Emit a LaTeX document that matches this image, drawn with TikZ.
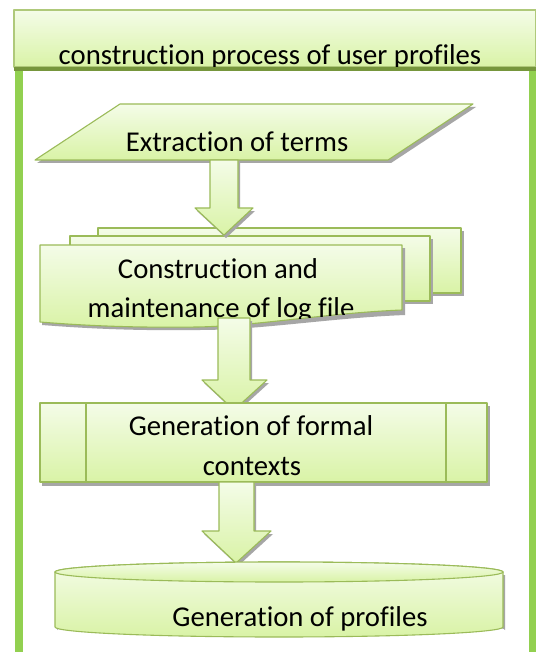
\documentclass[tikz,border=0pt]{standalone}
\usepackage{fontspec}
\setmainfont{Carlito}[RawFeature={-liga;-clig}]
\definecolor{framegreen}{HTML}{92D050}
\definecolor{bordergreen}{HTML}{9BBB59}
\definecolor{filltop}{HTML}{F4FCE8}
\definecolor{fillbot}{HTML}{D9F3A6}
\definecolor{darkline}{HTML}{76963C}
\definecolor{shadowgray}{HTML}{A6A6A6}
\tikzset{
  shp/.style={draw=bordergreen, line width=1.1pt, line join=round, top color=filltop, bottom color=fillbot},
  shad/.style={fill=shadowgray, draw=none},
  lbl/.style={font=\fontsize{28.7}{34}\selectfont, anchor=base, inner sep=0pt, text=black},
}
\begin{document}
\begin{tikzpicture}[x=1pt,y=-1pt]
\useasboundingbox (0,0) rectangle (535,652);
\fill[white] (0,0) rectangle (535,652);

% title box
\path[shp, draw=bordergreen!80] (14,10) rectangle (536,67);
\fill[darkline] (14,67) rectangle (536,71);
\begin{scope}
  \clip (14,10) rectangle (536,66.5);
  \node[lbl] (title) at (270,65) {construction process of user profiles};
\end{scope}

% frame bars
\fill[framegreen] (15,71) rectangle (23,652);
\fill[framegreen] (529,71) rectangle (536,652);

% parallelogram
\fill[shad] (122,107) -- (476,107) -- (391,163) -- (37,163) -- cycle;
\path[shp] (120,104) -- (473,104) -- (388,160) -- (35,160) -- cycle;
\node[lbl] (extr) at (237,152) {Extraction of terms};

% multi document
\fill[shad] (100,231) rectangle (464,296);
\path[shp] (98,228) rectangle (461,293);
\fill[shad] (72,239) rectangle (433,304);
\path[shp] (70,236) rectangle (430,301);
\fill[shad] (42,248) -- (405,248) -- (405,315) .. controls (330,318) and (260,330) .. (200,330) .. controls (130,331) and (80,328) .. (42,325) -- cycle;
\path[shp] (40,245) -- (402,245) -- (402,310) .. controls (327,313) and (257,326) .. (197,327) .. controls (127,328) and (77,325) .. (40,322) -- cycle;
\node[lbl] (cons1) at (218,278) {Construction and};
\begin{scope}
  \clip (40,245) -- (402,245) -- (402,310) .. controls (327,313) and (257,326) .. (197,327) .. controls (127,328) and (77,325) .. (40,322) -- cycle;
  \clip (0,0) rectangle (535,320);
  \node[lbl] (cons2) at (221,317) {maintenance of log file};
\end{scope}

% arrow 1
\fill[shad] (212,163) -- (240,163) -- (240,211) -- (255,211) -- (226,238) -- (197,211) -- (212,211) -- cycle;
\path[shp] (210,160) -- (238,160) -- (238,208) -- (253,208) -- (224,235) -- (195,208) -- (210,208) -- cycle;

% arrow 2
\fill[shad] (220,321) -- (252,321) -- (252,383) -- (269,383) -- (236,413) -- (204,383) -- (220,383) -- cycle;
\path[shp] (218,318) -- (250,318) -- (250,380) -- (267,380) -- (234,410) -- (202,380) -- (218,380) -- cycle;

% predefined process
\fill[shad] (42,406) rectangle (490,486);
\path[shp] (40,403) rectangle (487,482);
\draw[bordergreen, line width=1.1pt] (86,403) -- (86,482) (446,403) -- (446,482);
\node[lbl] (gen1) at (251,435) {Generation of formal};
\node[lbl] (gen2) at (252,475) {contexts};

% arrow 3
\fill[shad] (221,485) -- (256,485) -- (256,534) -- (273,534) -- (238,566) -- (204,534) -- (221,534) -- cycle;
\path[shp] (219,482) -- (254,482) -- (254,531) -- (271,531) -- (236,563) -- (202,531) -- (219,531) -- cycle;

% cylinder
\fill[shad] (57,575) -- (57,630) arc[start angle=180, end angle=360, x radius=224, y radius=10] -- (505,575) -- cycle;
\path[shp] (55,572) -- (55,627) arc[start angle=180, end angle=360, x radius=224, y radius=-10] -- (503,572) arc[start angle=0, end angle=180, x radius=224, y radius=-10] -- cycle;
\draw[bordergreen, line width=1.1pt, top color=filltop, bottom color=fillbot] (279,572) ellipse[x radius=224, y radius=10];
\node[lbl] (prof) at (300,626) {Generation of profiles};
\end{tikzpicture}
\end{document}
